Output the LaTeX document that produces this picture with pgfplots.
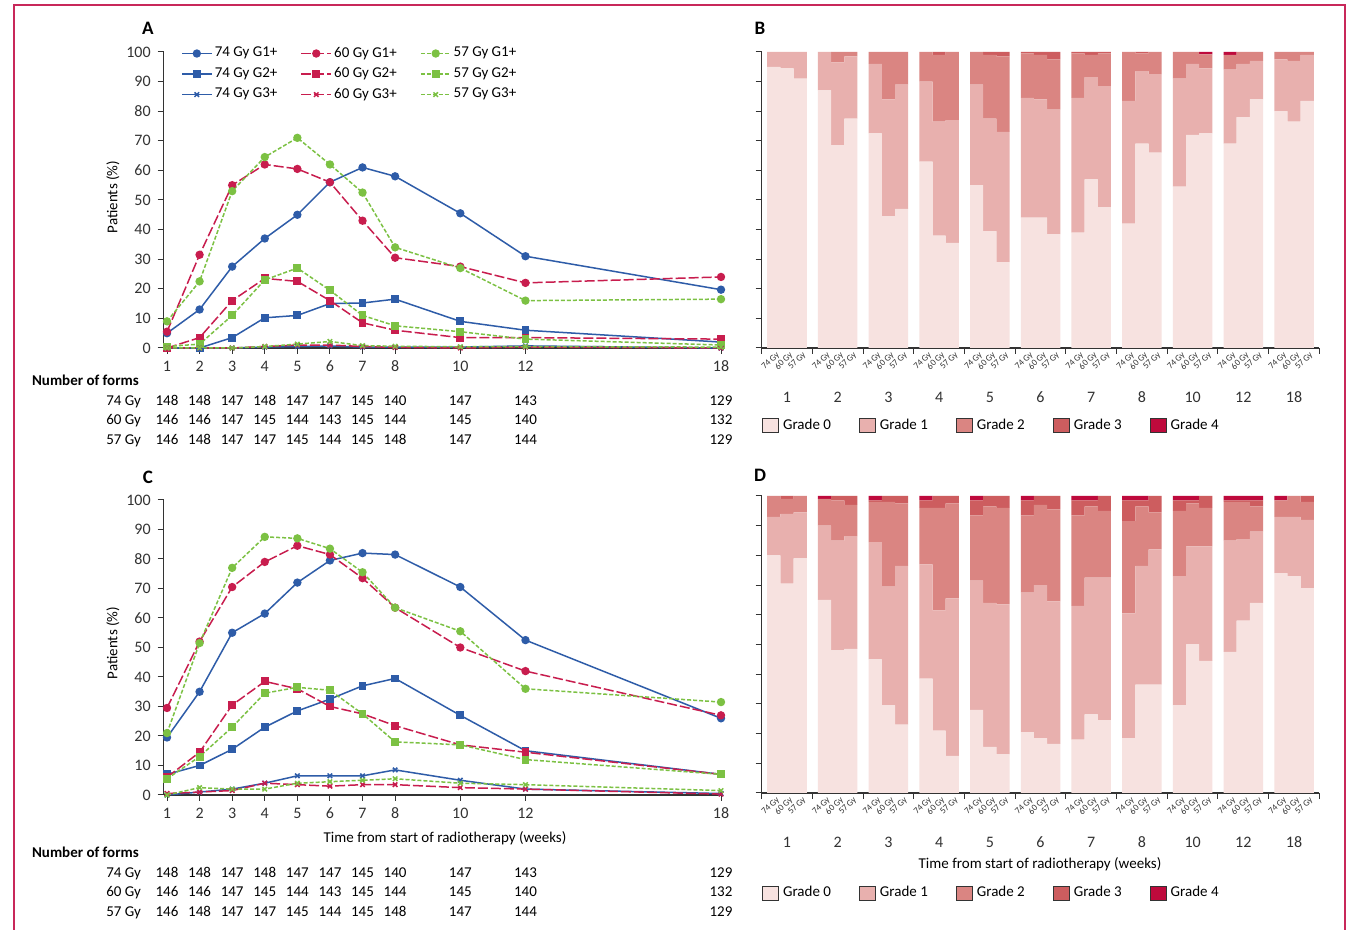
\documentclass[border=0pt]{standalone}
\usepackage{fontspec}
\setmainfont{Carlito}
\usepackage{pgfplots}
\usepackage{pgfplotstable}
\pgfplotsset{compat=1.18}

\definecolor{c74}{HTML}{2E5CA8}
\definecolor{c60}{HTML}{C81D4E}
\definecolor{c57}{HTML}{7CC143}
\definecolor{gr0}{HTML}{F7E2E0}
\definecolor{gr1}{HTML}{E8B0AE}
\definecolor{gr2}{HTML}{DA8582}
\definecolor{gr3}{HTML}{CD5D5F}
\definecolor{gr4}{HTML}{BE0A3C}
\definecolor{framec}{HTML}{C8285A}
\definecolor{axc}{HTML}{333333}

% patients (%) with grade >= 1, >= 2, >= 3; a = 74 Gy, b = 60 Gy, c = 57 Gy
\pgfplotstableread{
wk  a1   a2   a3   b1   b2   b3   c1   c2   c3
1   5    0    0    5.5  0    0    9    0.5  0
2   13   0    0    31.5 3.5  0    22.5 1.3  0
3   27.5 3.5  0    55   16   0    53   11   0
4   37   10.2 0.3  62   23.5 0.5  64.5 23   0.5
5   45   11   0.5  60.5 22.5 1    71   27   1.3
6   56   15   0.7  56   16   1    62   19.5 2.2
7   61   15.2 0.3  43   8.5  0.5  52.5 11   0.8
8   58   16.5 0.3  30.5 6    0.2  34   7.5  0.6
10  45.5 9    0.3  27.5 3.5  0    27   5.5  0.4
12  31   6    0.7  22   3.5  0.3  16   3    0.5
18  19.7 2    0    24   3    0    16.5 1    0.3
}\tabA

\pgfplotstableread{
wk  a1   a2   a3   b1   b2   b3   c1   c2   c3
1   19.5 7    0    29.5 6    0.5  21   5.5  0
2   35   10   1    52   14.5 1    51.5 13   2.5
3   55   15.5 2    70.5 30.5 1.5  77   23   2
4   61.5 23   4    79   38.5 4    87.5 34.5 2
5   72   28.5 6.5  84.5 36   3.5  87   36.5 4
6   79.5 32.5 6.5  81.5 30   3    83.5 35.5 4.5
7   82   37   6.5  73.5 27.5 3.5  75.5 27.5 5
8   81.5 39.5 8.5  63.5 23.5 3.5  63.5 18   5.5
10  70.5 27   5    50   17   2.5  55.5 17   4
12  52.5 15   2    42   14.5 2    36   12   3.5
18  26   7    0.5  27   7    0.3  31.5 7    1.5
}\tabC

% grade distribution (%) per bar; bars at group-0.26 (74 Gy), group (60 Gy), group+0.26 (57 Gy)
\pgfplotstableread{
x     g0   g1   g2   g3   g4
-0.26 95   5    0    0    0
0     94.5 5.5  0    0    0
0.26  91   9    0    0    0
0.74  87   13   0    0    0
1     68.5 28   3.5  0    0
1.26  77.5 21   1.5  0    0
1.74  72.5 23.5 4    0    0
2     44.5 39.5 16   0    0
2.26  47   42   11   0    0
2.74  63   27   10   0    0
3     38   38.5 22.5 1    0
3.26  35.5 41.5 23   0    0
3.74  55   34   11   0    0
4     39.5 38   21.5 1    0
4.26  29   44   25.5 1.5  0
4.74  44   40.5 15   0.5  0
5     44   40   15   1    0
5.26  38.5 42   17   2.5  0
5.74  39   45.5 15   0.5  0
6     57   34.5 7.5  1    0
6.26  47.5 41   11   0.5  0
6.74  42   41.5 16.5 0    0
7     69   24.5 6    0.5  0
7.26  66   26.5 7.5  0    0
7.74  54.5 36.5 9    0    0
8     72   24   4    0    0
8.26  72.5 22   4.7  0    0.8
8.74  69   25   5    0    1
9     78   18   4    0    0
9.26  84   13   3    0    0
9.74  80   17.5 2.5  0    0
10    76.5 20.5 3    0    0
10.26 83.5 15.5 1    0    0
}\tabB

\pgfplotstableread{
x     g0   g1   g2   g3   g4
-0.26 80   13   7    0    0
0     70.5 23.5 5    1    0
0.26  79   15.5 5.5  0    0
0.74  65   25   9    0    1
1     48   37   13.5 1.5  0
1.26  48.5 38   10.5 3    0
1.74  45   39.5 13.5 0.5  1.5
2     29.5 40   28.5 2    0
2.26  23   53.5 21   2.5  0
2.74  38.5 38.5 19   2.5  1.5
3     21   40.5 34.5 4    0
3.26  12.5 53   32   2.5  0
3.74  28   43.5 22   5    1.5
4     15.5 48.5 32.5 3.5  0
4.26  13   50.5 32.5 4    0
4.74  20.5 47   26   5    1.5
5     18.5 51.5 27   3    0
5.26  16.5 48   31   4.5  0
5.74  18   45   30.5 5    1.5
6     26.5 46   24   2    1.5
6.26  24.5 48   22.5 5    0
6.74  18.5 42   31   7    1.5
7     36.5 40   20   2    1.5
7.26  36.5 45.5 12.5 5.5  0
7.74  29.5 43.5 22   3.5  1.5
8     50   33   14.5 1    1.5
8.26  44.5 38.5 13   4    0
8.74  47.5 37.5 13   0.5  1.5
9     58   27.5 12.5 0.5  1.5
9.26  64   24   8.5  2    1.5
9.74  74   19   5.5  0    1.5
10    73   20   7    0    0
10.26 69   23   6    2    0
}\tabD

\pgfplotsset{
  common/.style={
    scale only axis,
    ymin=0, ymax=100,
    axis x line*=bottom, axis y line*=left,
    tick align=outside, major tick length=3pt,
    tick style={axc, line width=0.5pt},
    axis line style={axc, line width=0.6pt},
    tick label style={font=\fontsize{8}{9}\selectfont, text=axc},
    /pgf/number format/assume math mode=true,
    ytick={0,10,...,100},
    clip=false,
  },
  lineax/.style={
    common, width=278.63pt,
    xmin=0.9, xmax=18,
    xtick={1,2,3,4,5,6,7,8,10,12,18},
  },
  barax/.style={
    common, width=278.85pt,
    xmin=-0.5, xmax=10.5,
    ybar stacked, bar width=0.26,
    xtick={-0.5,0.5,...,10.5}, xticklabels={}, yticklabels={},
    legend columns=5,
    legend image code/.code={\draw[##1, draw=axc, line width=0.5pt] (0pt,-3.5pt) rectangle (8pt,3.5pt);},
  },
  l74/.style={c74, line width=0.75pt, mark options={solid}},
  l60/.style={c60, line width=0.75pt, dash pattern=on 5pt off 1.5pt, mark options={solid}},
  l57/.style={c57, line width=0.75pt, dash pattern=on 2pt off 1pt, mark options={solid}},
  m1/.style={mark=*, mark size=1.7pt},
  m2/.style={mark=square*, mark size=1.6pt},
  m3/.style={mark=x, mark size=1.6pt},
}

\newcommand{\formstable}[1]{%
  \node[anchor=base west, font=\bfseries\fontsize{7.5}{8}\selectfont] at (12.5pt,{#1-2.6pt}) {Number of forms};
  \foreach \lab/\dy/\vals in {74 Gy/10/{148,148,147,148,147,147,145,140,147,143,129},
                               60 Gy/19.75/{146,146,147,145,144,143,145,144,145,140,132},
                               57 Gy/29.5/{146,148,147,147,145,144,145,148,147,144,129}} {
    \node[anchor=base east, font=\fontsize{7.5}{8}\selectfont] at (74pt,{#1-\dy*1pt-2.6pt}) {\lab};
    \foreach \n [count=\i from 0] in \vals {
      \pgfmathsetmacro{\wk}{{1,2,3,4,5,6,7,8,10,12,18}[\i]}
      \node[anchor=base, font=\fontsize{7.5}{8}\selectfont] at ({(167+(\wk-1)*32.59)/2*1pt},{#1-\dy*1pt-2.6pt}) {\n};
    }
  }%
}

\newcommand{\barlabels}[1]{%
  \foreach \lab [count=\k from 0] in {1,2,3,4,5,6,7,8,10,12,18} {
    \node[font=\fontsize{8}{9}\selectfont, text=axc] at ({(787+50.7*\k)/2*1pt},{#1-24.5pt}) {\lab};
    \foreach \d/\txt in {-1/74 Gy, 0/60 Gy, 1/57 Gy} {
      \node[font=\fontsize{4.5}{5}\selectfont, text=axc, rotate=45, anchor=east, inner sep=0.3pt]
        at ({(787+50.7*\k+13.2*\d+5)/2*1pt},{#1-2.5pt}) {\txt};
    }
  }%
}

\begin{document}
\begin{tikzpicture}
\path[use as bounding box, fill=white] (0,0) rectangle (676.5pt,465pt);
\draw[framec, line width=0.8pt] (7pt,-5pt) -- (7pt,462.5pt) -- (672.5pt,462.5pt) -- (672.5pt,-5pt);

% ---------- A ----------
\begin{axis}[lineax, height=148pt, at={(81.87pt,291pt)}, anchor=south west,
  legend columns=3,
  legend cell align=left,
  legend style={draw=none, fill=none, at={(0.02,1.04)}, anchor=north west,
    font=\fontsize{7.5}{8}\selectfont, row sep=1.3pt,
    nodes={inner sep=1.2pt},
    /tikz/every even column/.append style={column sep=10.5pt}},
  legend image code/.code={\draw[mark repeat=2,mark phase=2,#1] plot coordinates {(0cm,0cm) (0.26cm,0cm) (0.52cm,0cm)};},
]
\addplot[l74, m1] table[x=wk, y=a1] {\tabA};
\addplot[l60, m1] table[x=wk, y=b1] {\tabA};
\addplot[l57, m1] table[x=wk, y=c1] {\tabA};
\addplot[l74, m2] table[x=wk, y=a2] {\tabA};
\addplot[l60, m2] table[x=wk, y=b2] {\tabA};
\addplot[l57, m2] table[x=wk, y=c2] {\tabA};
\addplot[l74, m3] table[x=wk, y=a3] {\tabA};
\addplot[l60, m3] table[x=wk, y=b3] {\tabA};
\addplot[l57, m3] table[x=wk, y=c3] {\tabA};
\legend{74 Gy G1+, 60 Gy G1+, 57 Gy G1+, 74 Gy G2+, 60 Gy G2+, 57 Gy G2+, 74 Gy G3+, 60 Gy G3+, 57 Gy G3+}
\end{axis}

% ---------- C ----------
\begin{axis}[lineax, height=147.5pt, at={(81.87pt,67.5pt)}, anchor=south west]
\addplot[l74, m1] table[x=wk, y=a1] {\tabC};
\addplot[l60, m1] table[x=wk, y=b1] {\tabC};
\addplot[l57, m1] table[x=wk, y=c1] {\tabC};
\addplot[l74, m2] table[x=wk, y=a2] {\tabC};
\addplot[l60, m2] table[x=wk, y=b2] {\tabC};
\addplot[l57, m2] table[x=wk, y=c2] {\tabC};
\addplot[l74, m3] table[x=wk, y=a3] {\tabC};
\addplot[l60, m3] table[x=wk, y=b3] {\tabC};
\addplot[l57, m3] table[x=wk, y=c3] {\tabC};
\end{axis}

% ---------- B ----------
\begin{axis}[barax, height=148pt, at={(380.83pt,291pt)}, anchor=south west,
  legend style={draw=none, fill=none, at={(0,-0.2635)}, anchor=west, inner sep=0pt,
    font=\fontsize{7.5}{8}\selectfont,
    /tikz/every even column/.append style={column sep=12pt}},
]
\addplot[fill=gr0, draw=none] table[x=x, y=g0] {\tabB};
\addplot[fill=gr1, draw=none] table[x=x, y=g1] {\tabB};
\addplot[fill=gr2, draw=none] table[x=x, y=g2] {\tabB};
\addplot[fill=gr3, draw=none] table[x=x, y=g3] {\tabB};
\addplot[fill=gr4, draw=none] table[x=x, y=g4] {\tabB};
\legend{Grade 0, Grade 1, Grade 2, Grade 3, Grade 4}
\end{axis}

% ---------- D ----------
\begin{axis}[barax, height=148.5pt, at={(380.83pt,68.5pt)}, anchor=south west,
  legend style={draw=none, fill=none, at={(0,-0.337)}, anchor=west, inner sep=0pt,
    font=\fontsize{7.5}{8}\selectfont,
    /tikz/every even column/.append style={column sep=12pt}},
]
\addplot[fill=gr0, draw=none] table[x=x, y=g0] {\tabD};
\addplot[fill=gr1, draw=none] table[x=x, y=g1] {\tabD};
\addplot[fill=gr2, draw=none] table[x=x, y=g2] {\tabD};
\addplot[fill=gr3, draw=none] table[x=x, y=g3] {\tabD};
\addplot[fill=gr4, draw=none] table[x=x, y=g4] {\tabD};
\legend{Grade 0, Grade 1, Grade 2, Grade 3, Grade 4}
\end{axis}

% panel letters and labels
\node[font=\bfseries\fontsize{9.5}{10}\selectfont] at (74pt,451pt) {A};
\node[font=\bfseries\fontsize{9.5}{10}\selectfont] at (380pt,451pt) {B};
\node[font=\bfseries\fontsize{9.5}{10}\selectfont] at (74pt,226.5pt) {C};
\node[font=\bfseries\fontsize{9.5}{10}\selectfont] at (380pt,227.5pt) {D};

\node[rotate=90, font=\fontsize{7.5}{8}\selectfont] at (56.5pt,366.5pt) {Patients (\%)};
\node[rotate=90, font=\fontsize{7.5}{8}\selectfont] at (56.5pt,143.5pt) {Patients (\%)};
\node[font=\fontsize{7.5}{8}\selectfont] at (222.5pt,46pt) {Time from start of radiotherapy (weeks)};
\node[font=\fontsize{7.5}{8}\selectfont] at (520pt,33pt) {Time from start of radiotherapy (weeks)};

\formstable{275pt}
\formstable{39pt}

\barlabels{291pt}
\barlabels{68.5pt}
\end{tikzpicture}
\end{document}
